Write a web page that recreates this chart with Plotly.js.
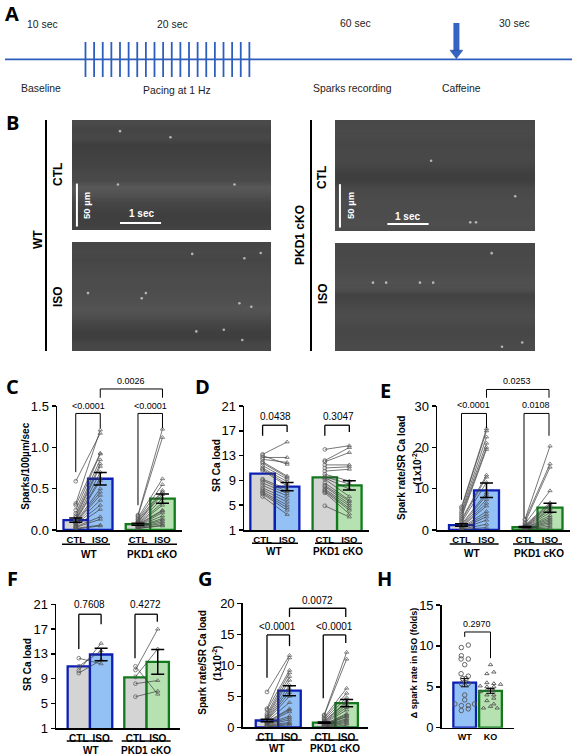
<!DOCTYPE html>
<html>
<head>
<meta charset="utf-8">
<script src="https://cdn.plot.ly/plotly-3.0.1.min.js"></script>
<style>html,body{margin:0;padding:0;background:#fff}#chart{width:577px;height:756px}</style>
</head>
<body>
<div id="chart"></div>
<script>
// ---------- DATA ----------
const groupLabels = ["CTL","ISO","CTL","ISO"];
const groupX = [0,1,2.54,3.54];

const cMeans = [0.12,0.62,0.07,0.38];
const cErrs  = [0.025,0.075,0.012,0.055];
const cWtCtl = [0.59,0.32,0.30,0.24,0.20,0.17,0.15,0.13,0.12,0.11,0.10,0.09,0.09,0.08,0.07,0.05,0.04,0.03,0.02,0.01];
const cWtIso = [1.17,1.21,0.93,0.92,0.85,0.80,0.77,0.70,0.63,0.60,0.50,0.46,0.42,0.36,0.30,0.25,0.16,0.13,0.06,0.05];
const cKoCtl = [0.18,0.17,0.15,0.13,0.12,0.10,0.10,0.09,0.08,0.07,0.07,0.06,0.05,0.05,0.04,0.04,0.03,0.03,0.02,0.02];
const cKoIso = [1.22,1.12,0.62,0.55,0.48,0.46,0.43,0.38,0.33,0.30,0.24,0.23,0.21,0.17,0.14,0.12,0.10,0.08,0.06,0.05];

const dMeans = [10.1,8.0,9.5,8.2];
const dErrs  = [0,0.65,0,0.75];
const dWtCtl = [13.2,13.0,12.7,12.4,12.0,11.8,11.4,11.0,10.8,10.6,9.2,9.0,8.6,8.2,7.8,7.5,7.2,7.0,6.8,6.4];
const dWtIso = [15.2,11.6,12.7,11.9,9.7,9.5,9.2,8.8,8.4,8.1,7.6,7.2,6.9,6.5,6.0,5.5,5.0,4.6,4.2,3.5];
const dKoCtl = [14.0,12.2,12.0,11.5,11.0,10.5,10.0,9.6,9.4,9.2,8.6,8.2,8.0,7.6,7.4,7.2,7.0,4.9];
const dKoIso = [14.6,14.3,13.5,11.5,11.2,10.8,8.9,8.4,7.6,6.4,5.8,5.6,5.2,4.9,4.5,4.2,3.6,3.1];

const eMeans = [1.2,9.6,0.7,5.4];
const eErrs  = [0.3,1.75,0.12,1.1];
const eWtCtl = [5.6,5.2,4.5,4.0,3.5,3.0,2.6,2.2,1.8,1.4,1.1,0.9,0.8,0.7,0.6,0.5,0.4,0.3,0.2,0.1];
const eWtIso = [24.5,24.0,22.5,21.0,20.0,19.5,13.3,12.8,11.5,9.0,8.4,7.4,6.5,5.8,4.5,3.8,3.2,2.4,1.4,0.6];
const eKoCtl = [2.6,2.4,1.8,1.5,1.2,1.0,0.9,0.8,0.7,0.6,0.5,0.5,0.4,0.3,0.3,0.2,0.2,0.1];
const eKoIso = [20.3,16.0,15.2,9.5,6.6,6.2,5.8,5.2,4.8,4.2,3.5,3.0,2.6,2.2,1.8,1.4,0.9,0.5];

const fMeans = [11.0,12.9,9.2,11.7];
const fErrs  = [0,1.0,0,2.0];
const fWtCtl = [12.3,11.0,10.3,9.9];
const fWtIso = [11.4,13.5,14.7,12.0];
const fKoCtl = [10.4,9.3,8.2,6.1,11.0];
const fKoIso = [17.0,13.8,8.7,7.0,6.5];

const gMeans = [1.1,5.9,0.75,3.9];
const gErrs  = [0.2,0.8,0.1,0.6];
const gWtCtl = [5.7,3.0,2.8,2.2,1.9,1.7,1.5,1.3,1.2,1.1,1.0,0.9,0.8,0.7,0.6,0.5,0.4,0.3,0.2,0.1];
const gWtIso = [11.6,11.2,9.2,8.8,8.2,7.6,6.8,6.2,5.6,5.0,4.0,3.0,2.8,2.5,1.8,1.5,1.2,0.8,0.6,0.4];
const gKoCtl = [2.0,1.9,1.6,1.4,1.2,1.0,0.9,0.8,0.7,0.6,0.5,0.5,0.4,0.4,0.3,0.3,0.2,0.2,0.1,0.1];
const gKoIso = [12.1,11.0,6.3,5.5,4.8,4.2,4.0,3.6,3.2,2.8,2.2,2.0,1.8,1.7,1.4,1.2,1.0,0.8,0.6,0.3];

const hLabels = ["WT","KO"];
const hMeans = [5.5,4.5];
const hErrs  = [0.5,0.3];
const hWtVal = [9.8,10.1,8.8,8.4,8.4,7.7,6.6,6.3,6.0,6.0,5.4,5.4,4.0,3.4,2.9,2.9,2.7,2.7,2.1,2.3];
const hWtOff = [-0.13,0.14,-0.13,-0.14,0.14,0,-0.14,0.14,-0.08,0.05,-0.13,0.14,0,0,-0.38,0.38,-0.13,0.14,-0.13,0.14];
const hKoVal = [7.7,6.6,6.8,5.5,5.4,5.1,5.3,5.0,5.0,4.4,4.6,4.7,4.5,4.0,4.0,3.3,3.6,2.9,2.4,2.6,2.4];
const hKoOff = [0,-0.14,0.13,-0.14,0.13,-0.4,0.39,-0.14,0.13,-0.4,-0.14,0,0.13,-0.14,0.13,-0.14,0.13,0.13,-0.27,0,0.26];

const pacingTimes = [1,2,3,4,5,6,7,8,9,10,11,12,13,14,15,16,17,18,19,20];

// Brightness of horizontal bands in the line-scan images, top to bottom
const imgWtCtl = [74,68,72,62,64,66,68,72,74,88,80,70,66,62,64,68];
const imgWtIso = [70,72,70,72,74,76,76,78,80,84,78,70,64,62,70,72];
const imgKoCtl = [72,74,72,70,72,72,68,62,64,72,74,76,76,76,78,74];
const imgKoIso = [72,72,74,74,76,80,78,66,70,74,76,74,70,72,74,74];
const bandDepth = [124,116,108,99,91,83,74,66,58,50,41,33,25,17,8,0];
// Bright spark events: time (s), position (um)
const spkWtCtlT = [1.17,2.4,1.12,3.96];
const spkWtCtlY = [115,108,53,53];
const spkWtIsoT = [2.93,4.2,4.6,0.39,1.7,1.8,4.08,4.37,3.03,3.7,4.15];
const spkWtIsoY = [114,109,115,68,62,68,56,52,23,25,13];
const spkKoCtlT = [2.33,3.28,3.42,4.37];
const spkKoCtlY = [81,10,10,40];
const spkKoIsoT = [0.92,1.24,2.06,2.38,4.05,4.54,3.8];
const spkKoIsoY = [81,81,81,81,5,10,116];

// ---------- STYLE ----------
const W = 577, H = 756;
const FONT = "Liberation Sans, Arial, sans-serif";
const LETTER = "Open Sans, Liberation Sans, sans-serif";
const BLUE = "#0c1fb5", GREEN = "#127a1c", GRAY = "#d4d4d4", LBLUE = "#93c0f5", LGREEN = "#b5e2b0";
const MARK = "#555555", PAIRLINE = "#3c3c3c", TL = "#2e5ebd";
const px = x => x / W, py = y => 1 - y / H;
const axN = n => n === 1 ? "" : String(n);

const traces = [], shapes = [], annotations = [];
const layout = {
  width: W, height: H, margin: {l:0,r:0,t:0,b:0}, paper_bgcolor: "#fff", plot_bgcolor: "rgba(0,0,0,0)",
  showlegend: false, bargap: 0, font: {family: FONT, color: "#000"}, shapes, annotations
};

function T(text, x, y, size, extra) {
  annotations.push(Object.assign({text, xref:"paper", yref:"paper", x:px(x), y:py(y), showarrow:false,
    xanchor:"center", yanchor:"middle", font:{family:FONT,size,color:"#000"}, borderpad:0}, extra||{}));
}
function hLine(x0, x1, y, w, color) {
  shapes.push({type:"line", xref:"paper", yref:"paper", x0:px(x0), x1:px(x1), y0:py(y), y1:py(y), line:{color:color||"#000", width:w||1.5}});
}
function vLine(x, y0, y1, w) {
  shapes.push({type:"line", xref:"paper", yref:"paper", x0:px(x), x1:px(x), y0:py(y0), y1:py(y1), line:{color:"#000", width:w||2}});
}
function hiddenAxes(n, L, R, Tp, B, xr, yr) {
  layout["xaxis"+axN(n)] = {domain:[px(L),px(R)], range:xr, visible:false, anchor:"y"+axN(n), fixedrange:true};
  layout["yaxis"+axN(n)] = {domain:[py(B),py(Tp)], range:yr, visible:false, anchor:"x"+axN(n), fixedrange:true};
}

// ---------- PANEL A ----------
hiddenAxes(1, 0, W, 0, 100, [-8.91,57.98], [100,0]);
(function(){
  const xs=[], ys=[];
  pacingTimes.forEach(t=>{xs.push(t,t,null);ys.push(42,77,null);});
  traces.push({type:"scatter",mode:"lines",x:[-8.33,57.4],y:[59.4,59.4],xaxis:"x",yaxis:"y",line:{color:TL,width:1.8},hoverinfo:"skip"});
  traces.push({type:"scatter",mode:"lines",x:xs,y:ys,xaxis:"x",yaxis:"y",line:{color:TL,width:1.8},hoverinfo:"skip",connectgaps:false});
  traces.push({type:"scatter",mode:"lines",x:[44,44],y:[23,51],xaxis:"x",yaxis:"y",line:{color:"#3565c4",width:6},hoverinfo:"skip"});
  traces.push({type:"scatter",mode:"markers",x:[44],y:[53],xaxis:"x",yaxis:"y",marker:{symbol:"triangle-down",size:11,color:"#3565c4",line:{color:"#24488f",width:0.6}},hoverinfo:"skip"});
})();
[["10 sec",42,24],["20 sec",172,24],["60 sec",355,23],["30 sec",514,23],
 ["Baseline",41,89],["Pacing at 1 Hz",177,90],["Sparks recording",352,89],["Caffeine",461,89]]
  .forEach(r=>T(r[0],r[1],r[2],10.4,{font:{family:FONT,size:10.4,color:"#222"}}));

// ---------- PANEL B ----------
const imgs = [
  {n:2,L:72,R:271,Tp:120,B:230,band:imgWtCtl,st:spkWtCtlT,sy:spkWtCtlY,bars:true,t0:1.17},
  {n:3,L:72,R:271,Tp:242,B:351,band:imgWtIso,st:spkWtIsoT,sy:spkWtIsoY},
  {n:4,L:335,R:535,Tp:120,B:231,band:imgKoCtl,st:spkKoCtlT,sy:spkKoCtlY,bars:true,t0:1.27},
  {n:5,L:335,R:535,Tp:243,B:351,band:imgKoIso,st:spkKoIsoT,sy:spkKoIsoY}
];
imgs.forEach(im=>{
  hiddenAxes(im.n, im.L, im.R, im.Tp, im.B, [0,4.85], [0,128]);
  traces.push({type:"heatmap",x:[0,4.85],y:bandDepth,z:im.band.map(v=>[v,v]),colorscale:[[0,"#000"],[1,"#fff"]],zmin:0,zmax:255,
    showscale:false,zsmooth:"best",xaxis:"x"+im.n,yaxis:"y"+im.n,hoverinfo:"skip"});
  traces.push({type:"scatter",mode:"markers",x:im.st,y:im.sy,xaxis:"x"+im.n,yaxis:"y"+im.n,
    marker:{color:"#d8d8d8",size:2.6,opacity:0.75},hoverinfo:"skip"});
  if(im.bars){
    const t0 = im.t0, t1 = im.t0 + 1, v0 = 4, v1 = 54, vx = 0.12;
    traces.push({type:"scatter",mode:"lines",x:[t0,t1],y:[8,8],xaxis:"x"+im.n,yaxis:"y"+im.n,line:{color:"#fff",width:2},hoverinfo:"skip"});
    traces.push({type:"scatter",mode:"lines",x:[vx,vx],y:[v0,v1],xaxis:"x"+im.n,yaxis:"y"+im.n,line:{color:"#fff",width:2},hoverinfo:"skip"});
  }
});
vLine(46,120,351,2); vLine(311,120,351,2);
const BLD = (s)=>"<b>"+s+"</b>";
T(BLD("WT"),38,240,12,{textangle:-90});
T(BLD("CTL"),58,175,12,{textangle:-90});
T(BLD("ISO"),58,297,12,{textangle:-90});
T(BLD("PKD1 cKO"),300,235,12,{textangle:-90});
T(BLD("CTL"),322,178,12,{textangle:-90});
T(BLD("ISO"),323,294,12,{textangle:-90});
T(BLD("1 sec"),141,214,10,{font:{family:FONT,size:10,color:"#fff"}});
T(BLD("1 sec"),407,216,10,{font:{family:FONT,size:10,color:"#fff"}});
T(BLD("50 µm"),86,206,9.5,{textangle:-90,font:{family:FONT,size:9.5,color:"#fff"}});
T(BLD("50 µm"),350,206,9.5,{textangle:-90,font:{family:FONT,size:9.5,color:"#fff"}});

// ---------- BAR PANELS ----------
function yAxisCfg(n, p) {
  layout["yaxis"+axN(n)] = {domain:[py(p.B),py(p.Tp)], range:p.yr, tickvals:p.yt, ticktext:p.ytt, anchor:"x"+axN(n),
    showgrid:false, zeroline:false, showline:true, linecolor:"#000", linewidth:1.5, ticks:"outside", ticklen:4, tickwidth:1.5,
    tickcolor:"#000", tickfont:{family:FONT,size:13,color:"#000"}, fixedrange:true};
}
function pairs(ctl, iso, x0, x1) {
  const x=[],y=[],sym=[];
  ctl.forEach((c,i)=>{x.push(x0,x1,null);y.push(c,iso[i],null);sym.push("circle-open","triangle-up-open","circle-open");});
  return {x,y,sym};
}
function bracket(n, p, x0, x1, top, l0, l1, w) {
  const f = v => (v - p.yr[0]) / (p.yr[1] - p.yr[0]);
  const xr = "x"+axN(n), yr = "y"+axN(n)+" domain";
  [[x0,l0,x0,top],[x0,top,x1,top],[x1,top,x1,l1]].forEach(s=>{
    shapes.push({type:"line",xref:xr,yref:yr,x0:s[0],x1:s[2],y0:f(s[1]),y1:f(s[3]),line:{color:"#000",width:w||1}});
  });
}

const panels = [
 {n:6,L:57,R:182,Tp:406,B:530,a:75.75,u:24.5,yr:[0,1.5],yt:[0,0.5,1,1.5],ytt:["0.0","0.5","1.0","1.5"],m:cMeans,e:cErrs,
  wc:cWtCtl,wi:cWtIso,kc:cKoCtl,ki:cKoIso,tk:9.5,
  br:[[0,1,1.41,0.7,1.23],[2.54,3.54,1.41,0.3,1.23]],
  top:[1,3.54,1.706,1.6,1.6],ps:[["<0.0001",88,405.7],["<0.0001",150,405.7],["0.0026",131,381]],ps_size:9,
  ul:[[62,110],[128,177]],ulY:544.3,gl:[88.7,152],glY:554,title:["Sparks/100µm/sec"],tx:[26],ty:466.7,ts:10},
 {n:7,L:244,R:369,Tp:406,B:530,a:262.6,u:24.5,yr:[1,21],yt:[1,5,9,13,17,21],ytt:["1","5","9","13","17","21"],m:dMeans,e:dErrs,
  wc:dWtCtl,wi:dWtIso,kc:dKoCtl,ki:dKoIso,tk:9.5,
  br:[[0,1,17.9,16.2,16.8],[2.54,3.54,17.9,16.2,16.8]],ps:[["0.0438",275,416.7],["0.3047",338,416.7]],ps_size:10,brw:1.3,
  ul:[[252,298],[315,362]],ulY:543.3,gl:[274.3,338],glY:551,title:["SR Ca load"],tx:[216],ty:466,ts:10},
 {n:8,L:437,R:570,Tp:406,B:530,a:461.5,u:25,yr:[0,30],yt:[0,10,20,30],ytt:["0","10","20","30"],m:eMeans,e:eErrs,
  wc:eWtCtl,wi:eWtIso,kc:eKoCtl,ki:eKoIso,tk:9.5,
  br:[[0,1,28.2,7.3,24.6],[2.5,3.5,28.2,3,22.8]],
  top:[1,3.5,34,32,32],ps:[["<0.0001",473.7,405],["0.0108",536.3,405],["0.0253",517,381]],ps_size:9,
  ul:[[449.7,498.7],[513,562]],ulY:544,gl:[472,538.7],glY:553,title:["Spark rate/SR Ca load","(1x10<sup>-2</sup>)"],tx:[401,417],ty:468,ts:10},
 {n:9,L:56,R:180,Tp:604.3,B:728.3,a:78.8,u:22.3,yr:[1,21],yt:[1,5,9,13,17,21],ytt:["1","5","9","13","17","21"],m:fMeans,e:fErrs,
  wc:fWtCtl,wi:fWtIso,kc:fKoCtl,ki:fKoIso,tk:10,
  br:[[0,1,19.4,13.8,17.8],[2.52,3.52,19.4,12.3,18.2]],ps:[["0.7608",89.3,604],["0.4272",145.7,604]],ps_size:10,brw:1.3,
  ul:[[66.7,112.7],[121.7,170.7]],ulY:741,gl:[90.7,146],glY:750,title:["SR Ca load"],tx:[27],ty:665,ts:10},
 {n:10,L:242.7,R:368,Tp:603.3,B:727.3,a:267,u:22.5,yr:[0,20],yt:[0,5,10,15,20],ytt:["0","5","10","15","20"],m:gMeans,e:gErrs,
  wc:gWtCtl,wi:gWtIso,kc:gKoCtl,ki:gKoIso,tk:10,
  br:[[0,1,14.9,8,13.1],[2.5,3.5,14.9,4.7,13.6]],
  top:[1,3.5,19.2,17.8,17.8],ps:[["<0.0001",277.7,626.7],["<0.0001",334,626.7],["0.0072",317.3,600]],ps_size:10,brw:1.3,
  ul:[[255.7,301.7],[310.7,358.3]],ulY:740,gl:[277.3,335],glY:748,title:["Spark rate/SR Ca load","(1x10<sup>-2</sup>)"],tx:[201.7,216.7],ty:663,ts:10}
];

panels.forEach(p=>{
  const n = p.n, xa = "x"+axN(n), ya = "y"+axN(n);
  layout["xaxis"+axN(n)] = {domain:[px(p.L),px(p.R)], range:[(p.L-p.a)/p.u,(p.R-p.a)/p.u], anchor:ya,
    tickvals:groupX, ticktext:groupLabels.map(BLD), ticks:"", showgrid:false, zeroline:false, showline:true, linecolor:"#000",
    linewidth:1.5, tickfont:{family:FONT,size:p.tk,color:"#000"}, fixedrange:true};
  yAxisCfg(n, p);
  traces.push({type:"bar",x:groupX,y:p.m,width:[1,1,1,1],xaxis:xa,yaxis:ya,
    marker:{color:[GRAY,LBLUE,GRAY,LGREEN],line:{color:[BLUE,BLUE,GREEN,GREEN],width:2.3}},hoverinfo:"skip"});
  [[p.wc,p.wi,groupX[0],groupX[1]],[p.kc,p.ki,groupX[2],groupX[3]]].forEach(g=>{
    const d = pairs(g[0],g[1],g[2],g[3]);
    traces.push({type:"scatter",mode:"lines+markers",x:d.x,y:d.y,xaxis:xa,yaxis:ya,cliponaxis:false,
      line:{color:PAIRLINE,width:0.7},marker:{symbol:d.sym,size:3.8,color:MARK,line:{width:0.7,color:MARK}},hoverinfo:"skip"});
  });
  const ex = groupX.filter((_,i)=>p.e[i]>0), ey = p.m.filter((_,i)=>p.e[i]>0), ee = p.e.filter(v=>v>0);
  traces.push({type:"scatter",mode:"markers",x:ex,y:ey,xaxis:xa,yaxis:ya,marker:{size:1,color:"#000",opacity:0},
    error_y:{type:"data",array:ee,visible:true,color:"#000",thickness:1.5,width:6.5},hoverinfo:"skip"});
  p.br.forEach(b=>bracket(n,p,b[0],b[1],b[2],b[3],b[4],p.brw));
  if(p.top) bracket(n,p,p.top[0],p.top[1],p.top[2],p.top[3],p.top[4],p.brw);
  p.ps.forEach(t=>T(t[0],t[1],t[2],p.ps_size));
  p.ul.forEach(u=>hLine(u[0],u[1],p.ulY,1.5));
  T(BLD("WT"),p.gl[0],p.glY,10);
  T(BLD("PKD1 cKO"),p.gl[1],p.glY,10);
  p.title.forEach((s,i)=>T(BLD(s),p.tx[i],p.ty,p.ts,{textangle:-90}));
});

// ---------- PANEL H ----------
(function(){
  const n=11,xa="x11",ya="y11";
  const p={L:441.7,R:514,Tp:605,B:727.7,yr:[0,15],yt:[0,5,10,15],ytt:["0","5","10","15"],a:464.7,u:25.8};
  layout.xaxis11={domain:[px(p.L),px(p.R)],range:[(p.L-p.a)/p.u,(p.R-p.a)/p.u],anchor:ya,tickvals:[0,1],ticktext:hLabels.map(BLD),
    ticks:"",showgrid:false,zeroline:false,showline:true,linecolor:"#000",linewidth:1.5,tickfont:{family:FONT,size:9,color:"#000"},fixedrange:true};
  yAxisCfg(n,p);
  traces.push({type:"bar",x:[0,1],y:hMeans,width:[0.88,0.88],xaxis:xa,yaxis:ya,
    marker:{color:[LBLUE,LGREEN],line:{color:[BLUE,GREEN],width:2.3}},hoverinfo:"skip"});
  traces.push({type:"scatter",mode:"markers",x:hWtOff,y:hWtVal,xaxis:xa,yaxis:ya,cliponaxis:false,
    marker:{symbol:"circle-open",size:4.5,color:MARK,line:{width:0.9,color:MARK}},hoverinfo:"skip"});
  traces.push({type:"scatter",mode:"markers",x:hKoOff.map(v=>1+v),y:hKoVal,xaxis:xa,yaxis:ya,cliponaxis:false,
    marker:{symbol:"triangle-up-open",size:3.8,color:MARK,line:{width:0.9,color:MARK}},hoverinfo:"skip"});
  traces.push({type:"scatter",mode:"markers",x:[0,1],y:hMeans,xaxis:xa,yaxis:ya,marker:{size:1,color:"#000",opacity:0},
    error_y:{type:"data",array:hErrs,visible:true,color:"#000",thickness:1,width:4},hoverinfo:"skip"});
  bracket(n,p,0,1,11.7,11.1,8.5,1);
  T("0.2970",477.3,624,9);
  T(BLD("Δ spark rate in ISO (folds)"),414.3,663,9,{textangle:-90});
})();

// ---------- PANEL LETTERS ----------
[["A",12,14],["B",12,123],["C",12,386],["D",203,386],["E",385,390],["F",12,578],["G",205,578],["H",384,578]]
  .forEach(r=>T("<b>"+r[0]+"</b>",r[1],r[2],20,{font:{family:LETTER,size:20,color:"#000"}}));

Plotly.newPlot("chart",traces,layout,{displayModeBar:false,staticPlot:true,responsive:false});
</script>
</body>
</html>
